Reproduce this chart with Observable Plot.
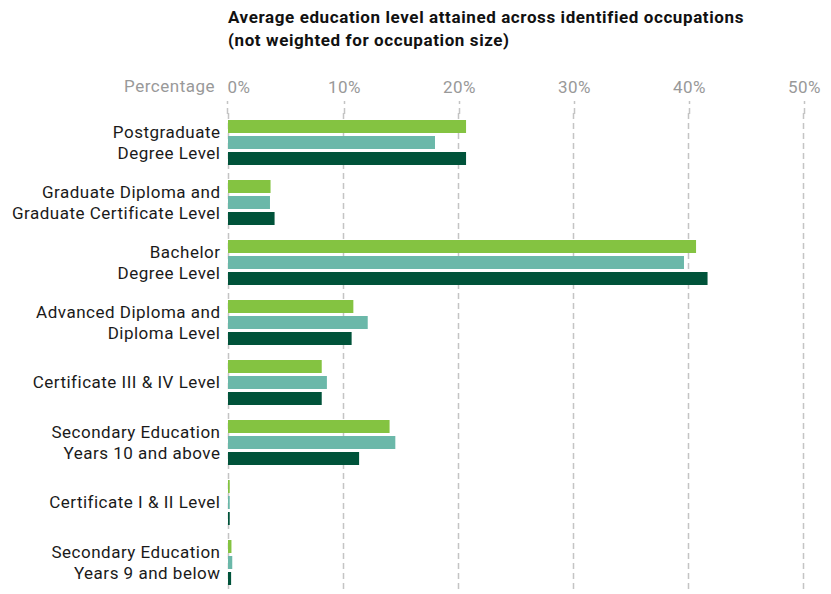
<!DOCTYPE html>
<html>
<head>
<meta charset="utf-8">
<script src="https://cdn.jsdelivr.net/npm/d3@7"></script>
<script src="https://cdn.jsdelivr.net/npm/@observablehq/plot@0.6"></script>
<style>
  body { margin: 0; background: #fff; font-family: Roboto, "DejaVu Sans", sans-serif; }
  #wrap { position: relative; width: 831px; height: 594px; }
  #title { padding: 6px 0 0 228px; height: 46px; font-size: 17px; line-height: 23px; font-weight: bold; color: #111; letter-spacing: 0.6px; white-space: nowrap; }
  #xlabel { position: absolute; right: 616px; top: 76px; font-size: 17px; line-height: 20px; color: #999; white-space: nowrap; letter-spacing: 0.5px; }
  svg { display: block; }
</style>
</head>
<body>
<div id="wrap">
  <div id="title">Average education level attained across identified occupations<br>(not weighted for occupation size)</div>
  <div id="xlabel">Percentage</div>
  <div id="chart"></div>
</div>
<script>
const categories = [
  "Postgraduate Degree Level",
  "Graduate Diploma and Graduate Certificate Level",
  "Bachelor Degree Level",
  "Advanced Diploma and Diploma Level",
  "Certificate III & IV Level",
  "Secondary Education Years 10 and above",
  "Certificate I & II Level",
  "Secondary Education Years 9 and below"
];
const categoryLabels = [
  "Postgraduate\nDegree Level",
  "Graduate Diploma and\nGraduate Certificate Level",
  "Bachelor\nDegree Level",
  "Advanced Diploma and\nDiploma Level",
  "Certificate III & IV Level",
  "Secondary Education\nYears 10 and above",
  "Certificate I & II Level",
  "Secondary Education\nYears 9 and below"
];
const series = ["Series 1", "Series 2", "Series 3"];
const values1 = [20.7, 3.7, 40.7, 10.9, 8.15, 14.05, 0.15, 0.3];
const values2 = [18.0, 3.65, 39.65, 12.15, 8.6, 14.55, 0.15, 0.37];
const values3 = [20.7, 4.05, 41.7, 10.75, 8.15, 11.4, 0.15, 0.27];
const xTicks = [0, 10, 20, 30, 40, 50];
const colors = ["#84c341", "#6bb8a9", "#00533a"];

const allValues = [values1, values2, values3];
const data = [];
categories.forEach((c, i) => {
  series.forEach((s, j) => data.push({category: c, series: s, value: allValues[j][i]}));
});
const labelOf = new Map(categories.map((c, i) => [c, categoryLabels[i]]));

const axisCommon = {anchor: "top", tickFormat: d => d + "%", tickSize: 13, tickPadding: 8,
  stroke: "#c4c4c4", strokeWidth: 1.5, strokeDasharray: "6,4", fill: "#999", label: null, fontSize: 17};

const chart = Plot.plot({
  width: 831,
  height: 542,
  marginLeft: 228,
  marginRight: 28,
  marginTop: 61,
  marginBottom: 1,
  style: {fontFamily: "Roboto, 'DejaVu Sans', sans-serif", fontSize: "17px", background: "#fff", letterSpacing: "0.5px"},
  x: {domain: [0, 50]},
  fy: {domain: categories, padding: 0, axis: null},
  y: {domain: series, paddingInner: 0.18, paddingOuter: 0.43, axis: null},
  color: {domain: series, range: colors},
  marks: [
    Plot.gridX(xTicks, {stroke: "#c4c4c4", strokeOpacity: 1, strokeWidth: 1.5, strokeDasharray: "6,4"}),
    Plot.axisX(xTicks.slice(0, 1), {...axisCommon, textAnchor: "start", dx: -1}),
    Plot.axisX(xTicks.slice(1), {...axisCommon, dx: 1}),
    Plot.barX(data, {x: "value", y: "series", fy: "category", fill: "series"}),
    Plot.text(categories, {fy: d => d, text: d => labelOf.get(d), frameAnchor: "left", textAnchor: "end",
      dx: -8, dy: -2, lineHeight: 1.24, fill: "#1a1a1a", fontSize: 17})
  ]
});
document.getElementById("chart").appendChild(chart);
</script>
</body>
</html>
